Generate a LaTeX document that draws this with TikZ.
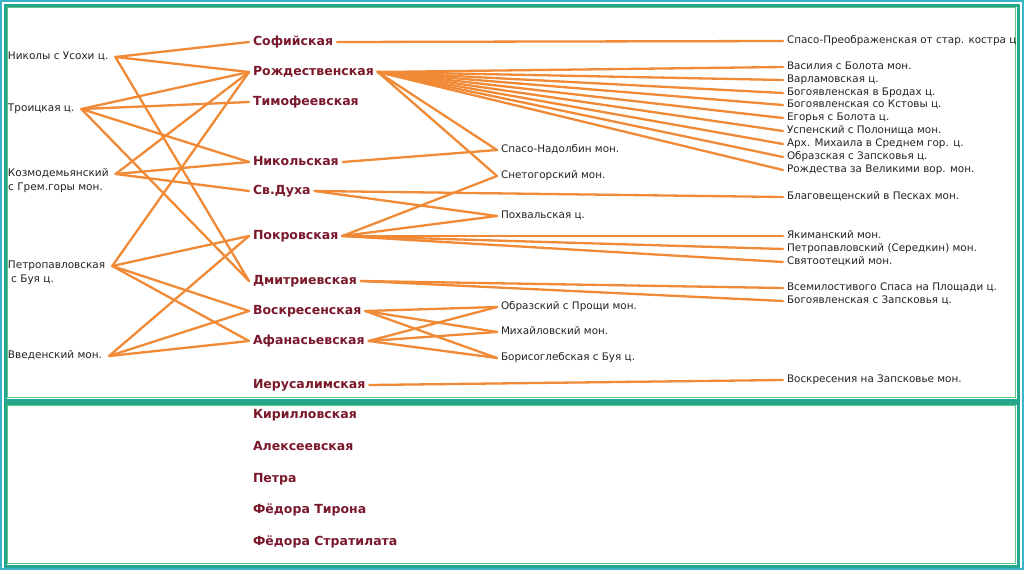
\documentclass[tikz,border=0pt]{standalone}
\usepackage{fontspec}
\setmainfont{DejaVu Sans}
\usetikzlibrary{calc}
\definecolor{edgec}{RGB}{240,138,54}
\definecolor{hubc}{RGB}{122,24,44}
\definecolor{txtc}{RGB}{35,35,35}
\definecolor{boxc}{RGB}{38,166,140}
\definecolor{boxin}{RGB}{90,200,130}
\definecolor{framec}{RGB}{60,180,200}
\begin{document}
\begin{tikzpicture}[x=1pt,y=-1pt,
  src/.style={anchor=west,inner sep=0pt,outer xsep=7pt,outer ysep=0pt,text=txtc,
    font=\fontsize{10.5}{13}\selectfont,text height=7.4pt,text depth=2pt},
  srcb/.style={anchor=north west,inner sep=0pt,text=txtc,
    font=\fontsize{10.5}{13}\selectfont,text height=7.4pt,text depth=2pt,yshift=-4.4pt},
  hub/.style={anchor=west,inner sep=0pt,outer xsep=4pt,outer ysep=0pt,text=hubc,
    font=\fontsize{12.5}{15}\selectfont\bfseries,text height=9pt,text depth=2.5pt},
  leaf/.style={anchor=west,inner sep=0pt,outer xsep=4pt,outer ysep=0pt,text=txtc,
    font=\fontsize{10.4}{13}\selectfont,text height=7.4pt,text depth=2pt},
  link/.style={draw=edgec,line width=2.3pt,line cap=round}]
\useasboundingbox (0,0) rectangle (1024,573);
\fill[white] (0,0) rectangle (1024,573);
% frames
\draw[framec,line width=1.5pt] (1,1) rectangle (1023,569);
\draw[boxc,line width=3pt] (5,5) rectangle (1018,400);
\draw[boxin,line width=1pt] (7.5,7.5) rectangle (1015.5,397.5);
\draw[boxc,line width=3pt] (5,403) rectangle (1018,566);
\draw[boxin,line width=1pt] (7.5,405.5) rectangle (1015.5,563.5);
% left column (text starts at x=8; anchors are offset by the outer sep)
\node[src] (n1) at (1,57) {Николы с Усохи ц.};
\node[src] (n2) at (1,109) {Троицкая ц.};
\node[src,label={[srcb,xshift=7pt]south west:с Грем.горы мон.}] (n3) at (1,174) {Козмодемьянский};
\node[src,label={[srcb,xshift=10pt]south west:с Буя ц.}] (n4) at (1,266) {Петропавловская};
\node[src] (n5) at (1,356) {Введенский мон.};
% middle column (text starts at x=253)
\node[hub] (h1) at (249,42) {Софийская};
\node[hub] (h2) at (249,72) {Рождественская};
\node[hub] (h3) at (249,102) {Тимофеевская};
\node[hub] (h4) at (249,162) {Никольская};
\node[hub] (h5) at (249,191) {Св.Духа};
\node[hub] (h6) at (249,236) {Покровская};
\node[hub] (h7) at (249,281) {Дмитриевская};
\node[hub] (h8) at (249,311) {Воскресенская};
\node[hub] (h9) at (249,341) {Афанасьевская};
\node[hub] (h10) at (249,385) {Иерусалимская};
\node[hub] (h11) at (249,415) {Кирилловская};
\node[hub] (h12) at (249,447) {Алексеевская};
\node[hub] (h13) at (249,479) {Петра};
\node[hub] (h14) at (249,510) {Фёдора Тирона};
\node[hub] (h15) at (249,542) {Фёдора Стратилата};
% third column (text starts at x=501)
\node[leaf] (m1) at (497,150) {Спасо-Надолбин мон.};
\node[leaf] (m2) at (497,176) {Снетогорский мон.};
\node[leaf] (m3) at (497,216) {Похвальская ц.};
\node[leaf] (m4) at (497,307) {Образский с Прощи мон.};
\node[leaf] (m5) at (497,332) {Михайловский мон.};
\node[leaf] (m6) at (497,358) {Борисоглебская с Буя ц.};
% right column (text starts at x=787)
\node[leaf] (r1) at (783,41) {Спасо-Преображенская от стар. костра ц};
\node[leaf] (r2) at (783,67) {Василия с Болота мон.};
\node[leaf] (r3) at (783,80) {Варламовская ц.};
\node[leaf] (r4) at (783,93) {Богоявленская в Бродах ц.};
\node[leaf] (r5) at (783,105) {Богоявленская со Кстовы ц.};
\node[leaf] (r6) at (783,118) {Егорья с Болота ц.};
\node[leaf] (r7) at (783,131) {Успенский с Полонища мон.};
\node[leaf] (r8) at (783,144) {Арх. Михаила в Среднем гор. ц.};
\node[leaf] (r9) at (783,157) {Образская с Запсковья ц.};
\node[leaf] (r10) at (783,170) {Рождества за Великими вор. мон.};
\node[leaf] (r11) at (783,197) {Благовещенский в Песках мон.};
\node[leaf] (r12) at (783,236) {Якиманский мон.};
\node[leaf] (r13) at (783,249) {Петропавловский (Середкин) мон.};
\node[leaf] (r14) at (783,262) {Святоотецкий мон.};
\node[leaf] (r15) at (783,288) {Всемилостивого Спаса на Площади ц.};
\node[leaf] (r16) at (783,301) {Богоявленская с Запсковья ц.};
\node[leaf] (r17) at (783,380) {Воскресения на Запсковье мон.};
% left -> middle
\foreach \a/\b in {n1/h1,n1/h2,n1/h7,n2/h2,n2/h3,n2/h4,n2/h7,n3/h2,n3/h4,n3/h5,
  n4/h2,n4/h6,n4/h8,n4/h9,n5/h6,n5/h8,n5/h9}
  \draw[link] (\a.east) -- (\b.west);
% middle -> right
\foreach \a/\b in {h1/r1,h2/r2,h2/r3,h2/r4,h2/r5,h2/r6,h2/r7,h2/r8,h2/r9,h2/r10,
  h2/m1,h2/m2,h4/m1,h5/r11,h5/m3,h6/m2,h6/m3,h6/r12,h6/r13,h6/r14,h7/r15,h7/r16,
  h8/m4,h8/m5,h8/m6,h9/m4,h9/m5,h9/m6,h10/r17}
  \draw[link] (\a.east) -- (\b.west);
\end{tikzpicture}
\end{document}
